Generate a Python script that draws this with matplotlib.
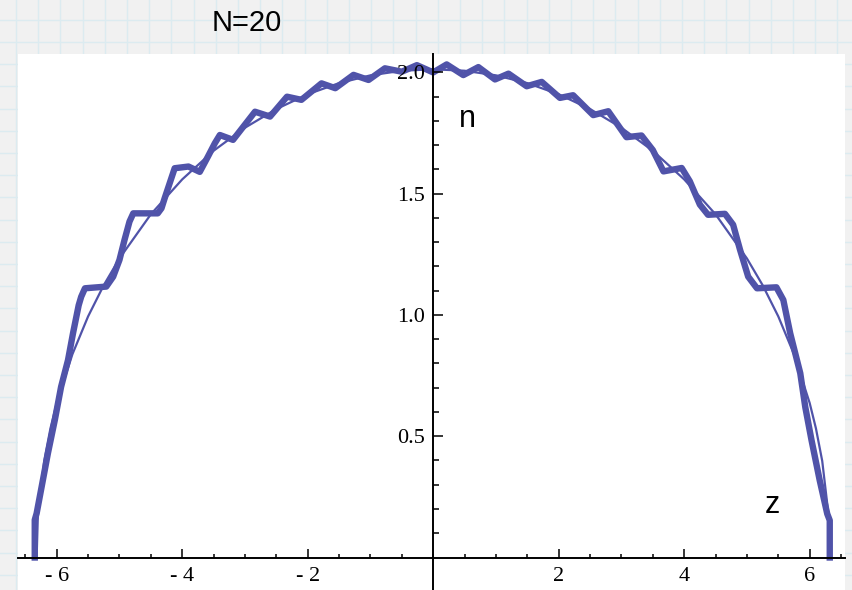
import numpy as np
import matplotlib
matplotlib.use("Agg")
import matplotlib.pyplot as plt

# =============================================================================
# Data
# =============================================================================
title = "N=20"

# thick oscillating density, left edge -> right edge
z_exact = [-6.35, -6.35, -6.32, -6.24, -6.14, -6.03, -5.93, -5.82, -5.74, -5.65,
           -5.61, -5.55, -5.21, -5.10, -5.00, -4.92, -4.84, -4.78, -4.39, -4.33,
           -4.28, -4.20, -4.12, -3.90, -3.72, -3.59, -3.48, -3.40, -3.19, -2.84,
           -2.60, -2.33, -2.10, -1.78, -1.56, -1.27, -1.03, -0.77, -0.50, -0.26,
           0.00, 0.215, 0.48, 0.72, 0.985, 1.20, 1.49, 1.73, 2.02, 2.23,
           2.55, 2.79, 3.08, 3.32, 3.50, 3.67, 3.96, 4.09, 4.25, 4.38,
           4.65, 4.78, 4.89, 5.02, 5.16, 5.47, 5.58, 5.69, 5.85, 5.93,
           6.03, 6.16, 6.28, 6.32, 6.32]
n_exact = [0.000, 0.155, 0.182, 0.292, 0.430, 0.567, 0.704, 0.814, 0.925, 1.040,
           1.075, 1.110, 1.117, 1.158, 1.227, 1.309, 1.385, 1.419, 1.419, 1.440,
           1.481, 1.543, 1.605, 1.612, 1.590, 1.653, 1.708, 1.742, 1.722, 1.838,
           1.818, 1.900, 1.887, 1.955, 1.935, 1.990, 1.969, 2.017, 2.003, 2.030,
           2.000, 2.033, 1.989, 2.022, 1.971, 1.995, 1.943, 1.961, 1.895, 1.906,
           1.824, 1.840, 1.733, 1.740, 1.680, 1.592, 1.606, 1.551, 1.455, 1.413,
           1.417, 1.372, 1.269, 1.158, 1.110, 1.114, 1.062, 0.924, 0.760, 0.620,
           0.483, 0.318, 0.180, 0.153, 0.000]

# thin smooth (Thomas-Fermi like) curve, right half; left half is its mirror
z_tf_half = [0.0, 0.5, 1.0, 1.5, 2.0, 2.5, 3.0, 3.5, 4.0, 4.5,
             5.0, 5.25, 5.5, 5.75, 6.0, 6.1, 6.2, 6.3, 6.32]
n_tf_half = [2.013, 2.007, 1.988, 1.956, 1.910, 1.849, 1.772, 1.677, 1.559, 1.415,
             1.233, 1.123, 0.994, 0.838, 0.637, 0.532, 0.398, 0.177, 0.0]

x_ticks = [-6, -4, -2, 2, 4, 6]
x_ticklabels = ["- 6", "- 4", "- 2", "2", "4", "6"]
y_ticks = [0.5, 1.0, 1.5, 2.0]
y_ticklabels = ["0.5", "1.0", "1.5", "2.0"]

z_tf = np.concatenate([-np.array(z_tf_half[::-1]), np.array(z_tf_half[1:])])
n_tf = np.concatenate([np.array(n_tf_half[::-1]), np.array(n_tf_half[1:])])

LINE = "#5053A9"
W, H = 852, 590

# =============================================================================
# Figure with graph-paper background
# =============================================================================
fig = plt.figure(figsize=(W / 100, H / 100), dpi=100)

bg = fig.add_axes([0, 0, 1, 1])
bg.set_xlim(0, W)
bg.set_ylim(H, 0)
bg.set_facecolor("#f1f1f1")
bg.set_xticks(np.arange(16, W, 22.2))
bg.set_yticks(np.arange(19.8, H, 22.2))
bg.grid(True, color="#dcebf0", lw=1.0)
bg.tick_params(length=0, labelbottom=False, labelleft=False)
for s in bg.spines.values():
    s.set_visible(False)

fig.text(247 / W, 1 - 23 / H, title, ha="center", va="center",
         fontsize=21, family="Liberation Sans")

# white plot panel
left_px, right_px, top_px = 18, 845, 54
ax = fig.add_axes([left_px / W, 0, (right_px - left_px) / W, (H - top_px) / H])
ax.set_facecolor("white")

ax.plot(z_tf, n_tf, color=LINE, lw=1.6, zorder=2)
ax.plot(z_exact, n_exact, color=LINE, lw=4.6, solid_joinstyle="round", zorder=2)

ax.set_xlim(-6.617, 6.563)
ax.set_ylim(-0.134, 2.076)

# axes through the origin, Mathematica style
ax.spines["left"].set_position(("data", 0))
ax.spines["bottom"].set_position(("data", 0))
ax.spines["top"].set_visible(False)
ax.spines["right"].set_visible(False)
for s in ("left", "bottom"):
    ax.spines[s].set_linewidth(1.4)
ax.set_axisbelow(False)

ax.set_xticks(x_ticks)
ax.set_xticklabels(x_ticklabels, family="Liberation Serif", fontsize=16)
ax.set_xticks(np.arange(-6.5, 6.6, 0.5), minor=True)
ax.set_yticks(y_ticks)
ax.set_yticklabels(y_ticklabels, family="Liberation Serif", fontsize=16)
ax.set_yticks(np.arange(0.1, 2.05, 0.1), minor=True)

ax.tick_params(axis="x", which="major", direction="in", length=6.5, width=1.1, pad=7)
ax.tick_params(axis="x", which="minor", direction="in", length=3, width=1.1)
ax.tick_params(axis="y", which="major", direction="in", length=7, width=1.1, pad=6)
ax.tick_params(axis="y", which="minor", direction="in", length=4.5, width=1.1)

ax.text(0.54, 1.81, "n", fontsize=22, family="Liberation Sans", ha="center", va="center")
ax.text(5.40, 0.217, "z", fontsize=22, family="Liberation Sans", ha="center", va="center")

fig.savefig("out.png", dpi=100)
